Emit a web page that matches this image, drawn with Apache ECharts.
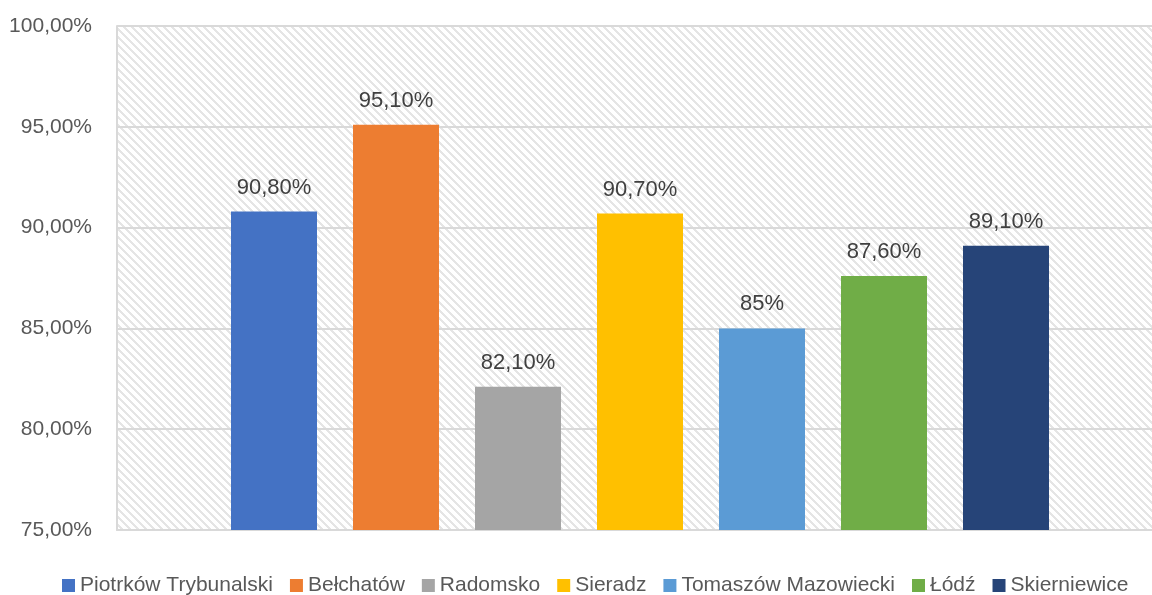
<!DOCTYPE html>
<html>
<head>
<meta charset="utf-8">
<script src="https://cdn.jsdelivr.net/npm/echarts@6/dist/echarts.min.js"></script>
<style>
html,body{margin:0;padding:0;background:#fff;}
#chart{width:1152px;height:595px;}
</style>
</head>
<body>
<div id="chart"></div>
<script>
const names = ['Piotrków Trybunalski','Bełchatów','Radomsko','Sieradz','Tomaszów Mazowiecki','Łódź','Skierniewice'];
const values = [90.8, 95.1, 82.1, 90.7, 85, 87.6, 89.1];
const valueLabels = ['90,80%','95,10%','82,10%','90,70%','85%','87,60%','89,10%'];
const colors = ['#4472C4','#ED7D31','#A5A5A5','#FFC000','#5B9BD5','#70AD47','#264478'];
const yTicks = ['75,00%','80,00%','85,00%','90,00%','95,00%','100,00%'];

// hatch pattern tile
const tile = document.createElement('canvas');
tile.width = 8; tile.height = 8;
const tctx = tile.getContext('2d');
tctx.fillStyle = '#ffffff';
tctx.fillRect(0,0,8,8);
tctx.fillStyle = '#e5e5e5';
for (let y = 0; y < 8; y++) {
  for (let x = 0; x < 8; x++) {
    const d = ((x - y) % 8 + 8) % 8;
    if (d === 0 || d === 1 || d === 2) tctx.fillRect(x, y, 1, 1);
  }
}

const font = "'Liberation Sans', Arial, sans-serif";
const chart = echarts.init(document.getElementById('chart'), null, {renderer: 'canvas'});
const series = names.map((n, i) => ({
  name: n,
  type: 'bar',
  data: [values[i]],
  barWidth: 86,
  barGap: '41.86%',
  itemStyle: {color: colors[i]},
  label: {
    show: true,
    position: 'top',
    distance: 13,
    formatter: () => valueLabels[i],
    color: '#404040',
    fontSize: 22,
    fontFamily: font
  }
}));

chart.setOption({
  animation: false,
  grid: {
    left: 117, top: 26, bottom: 65, width: 1046,
    outerBoundsMode: 'none',
    containLabel: false,
    show: true,
    backgroundColor: {image: tile, repeat: 'repeat'},
    borderWidth: 0
  },
  legend: {
    data: names,
    left: 57,
    top: 570,
    icon: 'rect',
    itemWidth: 13,
    itemHeight: 13,
    itemGap: 17,
    textStyle: {color: '#595959', fontSize: 21, fontFamily: font}
  },
  xAxis: {
    type: 'category',
    data: [''],
    axisLine: {show: true, lineStyle: {color: '#d9d9d9', width: 2}},
    axisTick: {show: false},
    axisLabel: {show: false}
  },
  yAxis: {
    type: 'value',
    min: 75,
    max: 100,
    interval: 5,
    axisLine: {show: true, lineStyle: {color: '#d9d9d9', width: 2}},
    axisTick: {show: false},
    splitLine: {show: true, lineStyle: {color: '#d9d9d9', width: 2}},
    axisLabel: {
      color: '#595959',
      fontSize: 21,
      fontFamily: font,
      margin: 25,
      formatter: (v) => yTicks[Math.round((v - 75) / 5)]
    }
  },
  series: series
});
</script>
</body>
</html>
